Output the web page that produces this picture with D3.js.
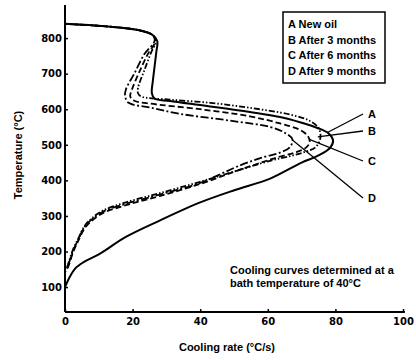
<!DOCTYPE html>
<html><head><meta charset="utf-8">
<script src="https://cdn.jsdelivr.net/npm/d3@7"></script>
<style>
html,body{margin:0;padding:0;background:#fff;}
svg text{font-family:"Liberation Sans",Arial,sans-serif;font-weight:bold;fill:#000;}
</style></head>
<body><svg id="c" width="416" height="360"></svg>
<script>
// ---- data (cooling rate °C/s, temperature °C) ----
const seriesKeys = ["A","B","C","D"];
const legendLabels = ["A New oil","B After 3 months","C After 6 months","D After 9 months"];
const xTicks = [0,20,40,60,80,100];
const yTicks = [100,200,300,400,500,600,700,800];
const curveA = [[0,840],[12,833],[22,822],[26,808],[27.3,792],[27,760],[26.5,720],[26,680],[25.7,645],[26.5,630],[31,623],[42,609],[54.7,592],[63.6,578],[70,562],[74.5,548],[78,532],[79.3,513],[78.5,492],[75,470],[70,450],[60.7,405],[50.3,373],[40,338],[28,287],[18,241],[10,192],[5.5,170],[3,152],[1.2,125],[0,100]];
const curveB = [[0,840],[12,833],[22,822],[26,808],[27,792],[25.5,760],[23.5,710],[21.6,660],[21.6,645],[22.5,636],[31,627],[43,618],[54.7,604],[66.6,585],[72.5,567],[75,548],[75.6,525],[75.2,508],[74,492],[71,480],[66.6,468],[60.7,455],[51.8,430],[40,396],[28,364],[18.3,339],[11.2,315],[7.4,289],[5.6,269],[3.8,234],[2.4,206],[1.2,173],[0.4,150]];
const curveC = [[0,840],[12,833],[22,822],[26,808],[26.8,792],[24.5,755],[22,705],[19.8,655],[19.3,636],[20.5,624],[25,616],[40,600],[54.7,580],[63.6,560],[69.5,542],[71.9,524],[72.4,508],[71.3,492],[68,478],[63.6,467],[58,450],[50,424],[40,390],[28,356],[18.3,331],[11.2,308],[7.4,282],[5.6,262],[3.8,228],[2.4,198],[1.2,164],[0.4,144]];
const curveD = [[0,840],[12,833],[22,822],[26,808],[26.5,792],[23.5,755],[20.5,700],[18,655],[17.8,635],[18.8,618],[25,605],[34,587],[48.8,568],[60.7,550],[65,534],[67.3,515],[66.5,493],[63.6,478],[59,466],[52,443],[40,393],[28,360],[18.3,335],[11.2,312],[7.4,286],[5.6,266],[3.8,231],[2.4,202],[1.2,169],[0.4,148]];
// leader targets on the curves (rate, temp)
const leaderTargets = [[77.5,534],[74.8,522],[72.3,515],[67.2,514]];
const dashes = [null,"6,2,1.5,2,1.5,2","6,3","8,2.5,2,2.5"];

const svg = d3.select("#c");
const x = d3.scaleLinear().domain([0,100]).range([65,403]);
const y = d3.scaleLinear().domain([30,893]).range([312,5]);

// axes
const gx = svg.append("g").attr("transform","translate(0,312)")
  .call(d3.axisBottom(x).tickValues(xTicks).tickSizeInner(-3).tickSizeOuter(0).tickPadding(6));
const gy = svg.append("g").attr("transform","translate(65,0)")
  .call(d3.axisLeft(y).tickValues(yTicks).tickSizeInner(-3).tickSizeOuter(0).tickPadding(3));
[gx,gy].forEach(g=>{
  g.select(".domain").attr("stroke","#000").attr("stroke-width",2);
  g.selectAll(".tick line").attr("stroke","#000").attr("stroke-width",1.5);
  g.selectAll(".tick text").attr("font-size",10).attr("font-family",null)
    .style("font-family","'DejaVu Sans',sans-serif").style("font-weight","bold");
});
gx.select(".domain").attr("d","M65,0H405");
gy.select(".domain").attr("d","M0,312V5");

// axis titles
svg.append("text").attr("x",227).attr("y",351).attr("text-anchor","middle").attr("font-size",11)
  .text("Cooling rate (°C/s)");
svg.append("text").attr("transform","translate(22,155) rotate(-90)").attr("text-anchor","middle").attr("font-size",11)
  .text("Temperature (°C)");

// curves
const line = d3.line().x(d=>x(d[0])).y(d=>y(d[1])).curve(d3.curveCatmullRom.alpha(0.5));
const curves = [curveA,curveB,curveC,curveD];
curves.forEach((c,i)=>{
  svg.append("path").attr("d",line(c)).attr("fill","none").attr("stroke","#000")
    .attr("stroke-width",i===0?2:1.8).attr("stroke-dasharray",dashes[i]);
});

// leaders and letters
const labelPos = [[368,114],[368,131],[368,161],[368,198]];
seriesKeys.forEach((k,i)=>{
  const t = leaderTargets[i];
  svg.append("line").attr("x1",x(t[0])).attr("y1",y(t[1])).attr("x2",labelPos[i][0]-5).attr("y2",labelPos[i][1])
    .attr("stroke","#000").attr("stroke-width",1.3);
  svg.append("text").attr("x",labelPos[i][0]).attr("y",labelPos[i][1]+4).attr("font-size",11).text(k);
});

// legend
svg.append("rect").attr("x",283).attr("y",12).attr("width",102).attr("height",71)
  .attr("fill","#fff").attr("stroke","#000").attr("stroke-width",1.5);
legendLabels.forEach((l,i)=>{
  svg.append("text").attr("x",288).attr("y",28+i*15.5).attr("font-size",11).text(l);
});

// note
svg.append("text").attr("x",230).attr("y",274).attr("font-size",11).text("Cooling curves determined at a");
svg.append("text").attr("x",230).attr("y",287).attr("font-size",11).text("bath temperature of 40°C");
</script></body></html>
